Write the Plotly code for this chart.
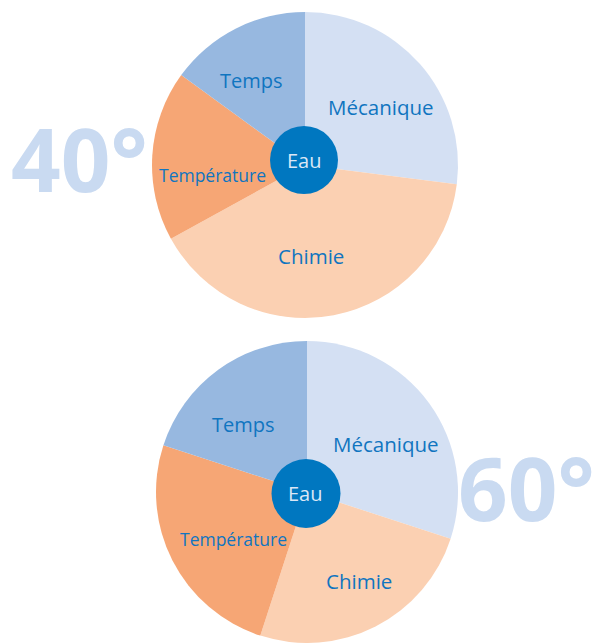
import math
import plotly.graph_objects as go

W, H = 595, 643

# ---- data ----
categories = ["Mécanique", "Chimie", "Température", "Temps"]
values_40 = [27, 40, 18, 15]
values_60 = [30, 25, 25, 20]
colors = ["#d4e0f3", "#fbd0b2", "#f6a675", "#97b8e0"]
label_sizes = [20.5, 20.5, 17.5, 20]
titles = ["40°", "60°"]
center_label = "Eau"

# ---- layout geometry (pixels) ----
pies = [
    dict(vals=values_40, cx=305, cy=165, r=153, hole=(304, 160, 34), title_xy=(79, 158),
         nudges=[(5, 5), (-12, -2), (2, 16), (-10, 0)]),
    dict(vals=values_60, cx=307, cy=492, r=151, hole=(306, 493.5, 34.5), title_xy=(526, 487),
         nudges=[(3, 7), (9, 6), (10, 4), (-8, 8)]),
]

def px(x):
    return x / W

def py(y):
    return 1 - y / H

fig = go.Figure()
annotations = []
shapes = []

for i, p in enumerate(pies):
    cx, cy, r = p["cx"], p["cy"], p["r"]
    fig.add_trace(go.Pie(
        labels=categories, values=p["vals"], sort=False,
        direction="clockwise", rotation=0,
        marker=dict(colors=colors, line=dict(width=0)),
        textinfo="none", hoverinfo="label+percent", showlegend=False,
        domain=dict(x=[px(cx - r), px(cx + r)], y=[py(cy + r), py(cy - r)]),
    ))
    # big title
    tx, ty = p["title_xy"]
    annotations.append(dict(
        text=titles[i], x=px(tx), y=py(ty), xref="paper", yref="paper",
        showarrow=False, xanchor="center", yanchor="middle",
        font=dict(family="Open Sans", size=87, color="#c9daf1", weight="bold"),
    ))
    # slice labels at mid-angle
    total = sum(p["vals"])
    cum = 0
    for cat, v, fs, (ndx, ndy) in zip(categories, p["vals"], label_sizes, p["nudges"]):
        mid = (cum + v / 2) / total * 2 * math.pi
        cum += v
        lr = 0.62 * r
        lx = cx + lr * math.sin(mid) + ndx
        ly = cy - lr * math.cos(mid) + ndy
        annotations.append(dict(
            text=cat, x=px(lx), y=py(ly), xref="paper", yref="paper",
            showarrow=False, xanchor="center", yanchor="middle",
            font=dict(family="Open Sans", size=fs, color="#1075c0"),
        ))
    # centre circle
    hx, hy, hr = p["hole"]
    shapes.append(dict(
        type="circle", xref="paper", yref="paper",
        x0=px(hx - hr), x1=px(hx + hr), y0=py(hy + hr), y1=py(hy - hr),
        fillcolor="#0077c0", line=dict(width=0), layer="above",
    ))
    annotations.append(dict(
        text=center_label, x=px(hx), y=py(hy), xref="paper", yref="paper",
        showarrow=False, xanchor="center", yanchor="middle",
        font=dict(family="Open Sans", size=20, color="#dbe7f6"),
    ))

fig.update_layout(
    width=W, height=H, margin=dict(l=0, r=0, t=0, b=0),
    paper_bgcolor="white", plot_bgcolor="white",
    annotations=annotations, shapes=shapes,
)

fig.write_html("out.html")
